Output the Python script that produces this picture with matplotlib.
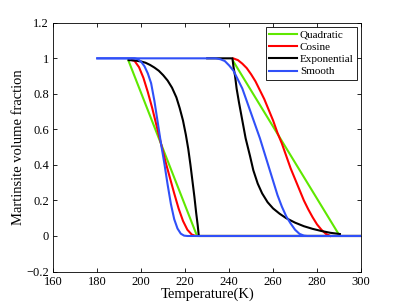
import matplotlib
matplotlib.use("Agg")
import matplotlib.pyplot as plt

# values (temperature in K, martensite fraction)
quad_cool_T = [194.1, 225.4, 300]
quad_cool_f = [0.99, 0.0, 0.0]
quad_heat_T = [241.8, 289.6]
quad_heat_f = [0.985, 0.015]

cos_cool_T = [195.8, 197, 199, 201, 203, 205, 207, 209, 211, 213, 215, 217, 219, 221, 223, 224.8, 300]
cos_cool_f = [0.99, 0.985, 0.95, 0.89, 0.81, 0.72, 0.62, 0.52, 0.42, 0.33, 0.24, 0.155, 0.085, 0.035, 0.008, 0.0, 0.0]
cos_heat_T = [241.8, 244, 246, 248, 250, 252, 254, 256, 258, 260, 262, 264, 266, 268, 270, 272, 274, 276, 278, 280, 282, 284, 286]
cos_heat_f = [1.0, 0.99, 0.97, 0.945, 0.91, 0.87, 0.82, 0.77, 0.71, 0.65, 0.58, 0.52, 0.45, 0.38, 0.32, 0.26, 0.2, 0.15, 0.105, 0.065, 0.035, 0.012, 0.0]

exp_cool_T = [194.3, 197, 200, 202, 204, 206, 208, 210, 212, 214, 216, 217.5, 219, 220.3, 221.4, 222.4, 223.3, 224.2, 225, 225.7, 226.2, 300]
exp_cool_f = [0.99, 0.988, 0.982, 0.975, 0.963, 0.948, 0.93, 0.905, 0.875, 0.835, 0.78, 0.72, 0.65, 0.57, 0.49, 0.40, 0.31, 0.22, 0.13, 0.06, 0.0, 0.0]
exp_heat_T = [230, 241.5, 242.0, 242.7, 243.4, 244.5, 246, 247.5, 249.5, 251, 253, 255, 257.5, 260, 263, 266, 270, 274, 278, 282, 286, 290.4]
exp_heat_f = [1.0, 1.0, 0.95, 0.9, 0.83, 0.75, 0.65, 0.55, 0.45, 0.37, 0.295, 0.24, 0.19, 0.155, 0.125, 0.1, 0.075, 0.055, 0.04, 0.028, 0.018, 0.011]

smooth_cool_T = [180, 197, 198.5, 200, 201.5, 203, 204.5, 206, 207.5, 209, 210.5, 212, 213.5, 215, 216.5, 218, 219.5, 221, 300]
smooth_cool_f = [1.0, 1.0, 0.995, 0.98, 0.955, 0.915, 0.86, 0.76, 0.64, 0.52, 0.41, 0.29, 0.18, 0.095, 0.042, 0.013, 0.002, 0.0, 0.0]
smooth_heat_T = [180, 234, 236, 238, 240, 242, 244, 246, 248, 250, 252, 254, 256, 258, 260, 262, 264, 266, 268, 270, 272, 274, 275.5, 300]
smooth_heat_f = [1.0, 1.0, 0.995, 0.985, 0.96, 0.93, 0.88, 0.83, 0.76, 0.69, 0.62, 0.55, 0.47, 0.39, 0.31, 0.23, 0.165, 0.11, 0.07, 0.035, 0.012, 0.002, 0.0, 0.0]

x_ticks = [160, 180, 200, 220, 240, 260, 280, 300]
y_ticks = [-0.2, 0, 0.2, 0.4, 0.6, 0.8, 1, 1.2]
y_tick_labels = ["\u22120.2", "0", "0.2", "0.4", "0.6", "0.8", "1", "1.2"]

plt.rcParams['font.family'] = ['Liberation Serif', 'DejaVu Serif']

fig = plt.figure(figsize=(3.99, 3.06), dpi=100)
ax = fig.add_axes([0.1336, 0.1127, 0.7712, 0.8128])

lw = 1.5
green = '#5fe800'
red = '#ff0000'
blue = '#3050f8'

ax.plot(quad_cool_T, quad_cool_f, color=green, lw=lw, label='Quadratic')
ax.plot(quad_heat_T, quad_heat_f, color=green, lw=lw)
ax.plot(cos_cool_T, cos_cool_f, color=red, lw=lw, label='Cosine')
ax.plot(cos_heat_T, cos_heat_f, color=red, lw=lw)
ax.plot(exp_cool_T, exp_cool_f, color='black', lw=lw, label='Exponential')
ax.plot(exp_heat_T, exp_heat_f, color='black', lw=lw)
ax.plot(smooth_cool_T, smooth_cool_f, color=blue, lw=lw, label='Smooth')
ax.plot(smooth_heat_T, smooth_heat_f, color=blue, lw=lw)

ax.set_xlim(160, 300)
ax.set_ylim(-0.2, 1.2)
ax.set_xticks(x_ticks)
ax.set_yticks(y_ticks)
ax.set_yticklabels(y_tick_labels)
ax.tick_params(direction='in', length=3, width=0.6, top=True, right=True, labelsize=9, pad=3)
for s in ax.spines.values():
    s.set_linewidth(0.6)

ax.set_xlabel("Temperature(K)", fontsize=10.5, labelpad=0)
ax.set_ylabel("Martinsite volume fraction", fontsize=10.5, labelpad=1)

leg = ax.legend(loc='upper right', fontsize=8, fancybox=False, framealpha=1,
                edgecolor='black', handlelength=2.5, handletextpad=0.25,
                labelspacing=0.22, borderpad=0.3, borderaxespad=0.35)
leg.get_frame().set_linewidth(0.6)

fig.savefig("out.png", dpi=100)
